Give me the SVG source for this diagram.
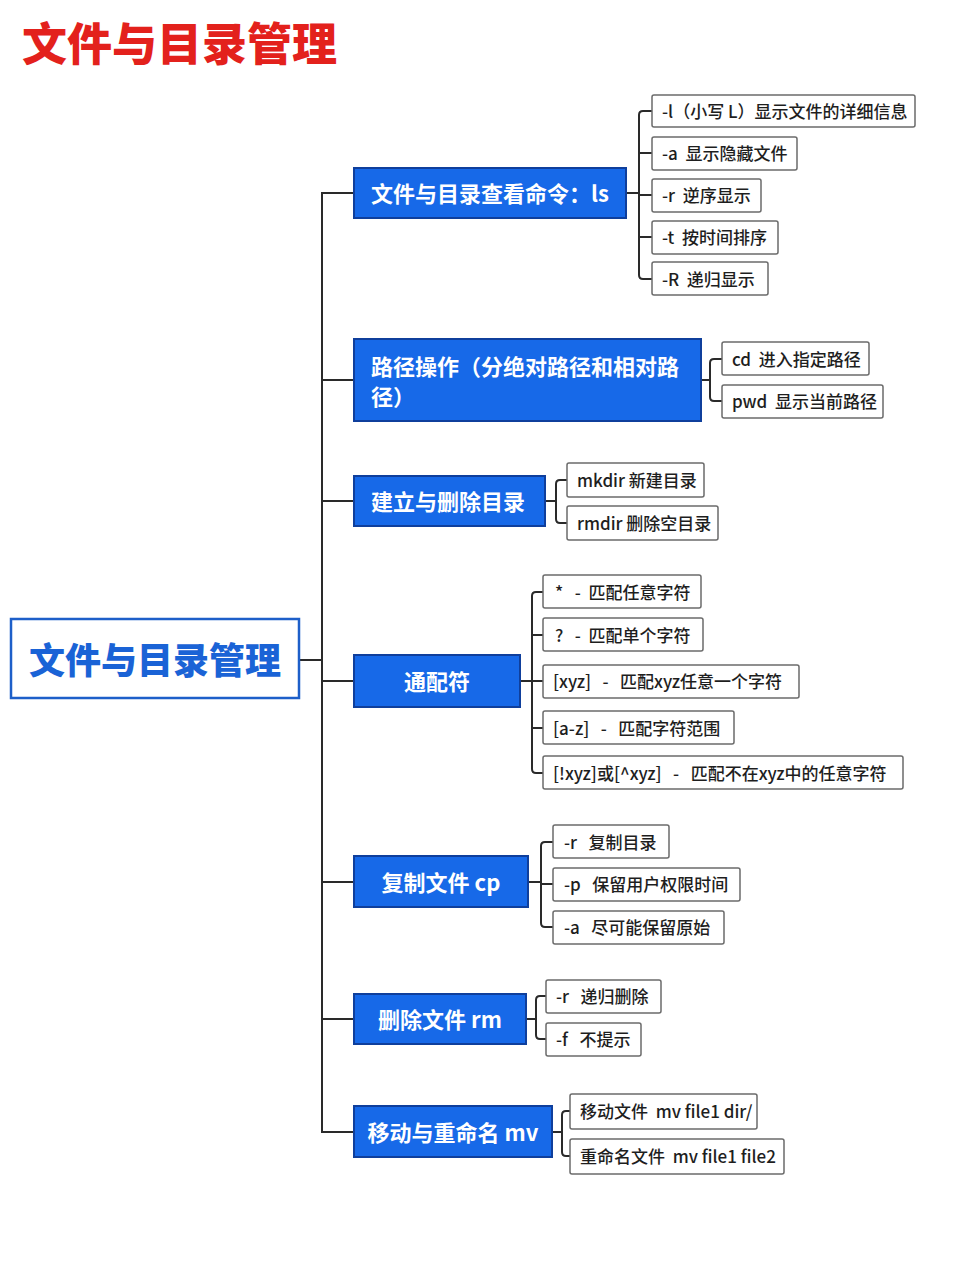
<svg xmlns="http://www.w3.org/2000/svg" width="960" height="1280" viewBox="0 0 960 1280">
<style>
text{font-family:"Noto Sans CJK SC","Noto Sans",sans-serif;dominant-baseline:central;white-space:pre}
.title{font-size:45px;font-weight:900;fill:#e3211c;dominant-baseline:auto}
.root rect{fill:#fff;stroke:#1d5fc9;stroke-width:2.5}
.root text{font-size:36px;font-weight:900;fill:#1a63d6}
.main rect{fill:#1769e8;stroke:#0f3f9c;stroke-width:2}
.main text{font-size:22px;font-weight:700;fill:#fff}
.leaf rect{fill:#fff;stroke:#6b6b6b;stroke-width:1.5}
.leaf text{font-size:17px;font-weight:500;fill:#1e1e1e}
.conn path{fill:none;stroke:#2a2a2a;stroke-width:2}
</style>
<rect width="960" height="1280" fill="#fff"/>
<text class="title" x="22" y="61">文件与目录管理</text>

<g class="conn">
<path d="M300 660H322M353 193H322V1132H353M322 380H353M322 501H353M322 681H353M322 882H353M322 1019H353"/>
<path d="M626 193H639M652 111H643Q639 111 639 115V275Q639 279 643 279H652M639 153H652M639 195H652M639 237H652"/>
<path d="M701 380H710M722 359H714Q710 359 710 363V397Q710 401 714 401H722"/>
<path d="M545 501H556M567 480H560Q556 480 556 484V519Q556 523 560 523H567"/>
<path d="M520 681H532M543 592H536Q532 592 532 596V769Q532 773 536 773H543M532 635H543M532 681H543M532 728H543"/>
<path d="M528 882H541M553 842H545Q541 842 541 846V923Q541 927 545 927H553M541 884H553"/>
<path d="M526 1019H536M546 996H540Q536 996 536 1000V1035Q536 1039 540 1039H546"/>
<path d="M552 1132H562M570 1111H566Q562 1111 562 1115V1152Q562 1156 566 1156H570"/>
</g>

<g id="root" class="root"><rect x="11" y="619" width="288" height="79"/><text x="155" y="658" text-anchor="middle">文件与目录管理</text></g>

<g id="ls" class="main"><rect x="354" y="168" width="272" height="50"/><text x="371" y="192">文件与目录查看命令：ls</text></g>
<g id="path" class="main"><rect x="354" y="339" width="347" height="82"/><text x="371" y="365">路径操作（分绝对路径和相对路</text><text x="371" y="395">径）</text></g>
<g id="mkrm" class="main"><rect x="354" y="476" width="191" height="50"/><text x="371" y="500">建立与删除目录</text></g>
<g id="wild" class="main"><rect x="354" y="655" width="166" height="52"/><text x="437" y="680" text-anchor="middle">通配符</text></g>
<g id="cp" class="main"><rect x="354" y="856" width="174" height="51"/><text x="441" y="881" text-anchor="middle">复制文件 cp</text></g>
<g id="rm" class="main"><rect x="354" y="994" width="172" height="50"/><text x="440" y="1018" text-anchor="middle">删除文件 rm</text></g>
<g id="mv" class="main"><rect x="354" y="1106" width="198" height="51"/><text x="453" y="1131" text-anchor="middle">移动与重命名 mv</text></g>

<g id="ls-l" class="leaf"><rect x="652" y="95" width="263" height="32" rx="2"/><text x="662" y="110">-l（小写 L）显示文件的详细信息</text></g>
<g id="ls-a" class="leaf"><rect x="652" y="137" width="145" height="33" rx="2"/><text x="662" y="152">-a  显示隐藏文件</text></g>
<g id="ls-r" class="leaf"><rect x="652" y="179" width="109" height="33" rx="2"/><text x="662" y="194">-r  逆序显示</text></g>
<g id="ls-t" class="leaf"><rect x="652" y="221" width="126" height="33" rx="2"/><text x="662" y="236">-t  按时间排序</text></g>
<g id="ls-R" class="leaf"><rect x="652" y="262" width="116" height="33" rx="2"/><text x="662" y="278">-R  递归显示</text></g>

<g id="cd" class="leaf"><rect x="722" y="342" width="147" height="33" rx="2"/><text x="732" y="358">cd  进入指定路径</text></g>
<g id="pwd" class="leaf"><rect x="722" y="385" width="161" height="33" rx="2"/><text x="732" y="400">pwd  显示当前路径</text></g>

<g id="mkdir" class="leaf"><rect x="567" y="463" width="137" height="34" rx="2"/><text x="577" y="479">mkdir 新建目录</text></g>
<g id="rmdir" class="leaf"><rect x="567" y="506" width="151" height="34" rx="2"/><text x="577" y="522">rmdir 删除空目录</text></g>

<g id="w1" class="leaf"><rect x="543" y="575" width="158" height="33" rx="2"/><text x="555" y="591">*   -  匹配任意字符</text></g>
<g id="w2" class="leaf"><rect x="543" y="618" width="160" height="33" rx="2"/><text x="555" y="634">?   -  匹配单个字符</text></g>
<g id="w3" class="leaf"><rect x="543" y="665" width="256" height="33" rx="2"/><text x="553" y="680">[xyz]   -   匹配xyz任意一个字符</text></g>
<g id="w4" class="leaf"><rect x="543" y="711" width="191" height="33" rx="2"/><text x="553" y="727">[a-z]   -   匹配字符范围</text></g>
<g id="w5" class="leaf"><rect x="543" y="756" width="360" height="33" rx="2"/><text x="553" y="772">[!xyz]或[^xyz]   -   匹配不在xyz中的任意字符</text></g>

<g id="cp-r" class="leaf"><rect x="553" y="825" width="116" height="33" rx="2"/><text x="564" y="841">-r   复制目录</text></g>
<g id="cp-p" class="leaf"><rect x="553" y="868" width="187" height="33" rx="2"/><text x="564" y="883">-p   保留用户权限时间</text></g>
<g id="cp-a" class="leaf"><rect x="553" y="911" width="171" height="33" rx="2"/><text x="564" y="926">-a   尽可能保留原始</text></g>

<g id="rm-r" class="leaf"><rect x="546" y="980" width="115" height="33" rx="2"/><text x="556" y="995">-r   递归删除</text></g>
<g id="rm-f" class="leaf"><rect x="546" y="1023" width="95" height="33" rx="2"/><text x="556" y="1038">-f   不提示</text></g>

<g id="mv1" class="leaf"><rect x="570" y="1094" width="187" height="35" rx="2"/><text x="580" y="1110">移动文件  mv file1 dir/</text></g>
<g id="mv2" class="leaf"><rect x="570" y="1139" width="214" height="35" rx="2"/><text x="580" y="1155">重命名文件  mv file1 file2</text></g>
</svg>
